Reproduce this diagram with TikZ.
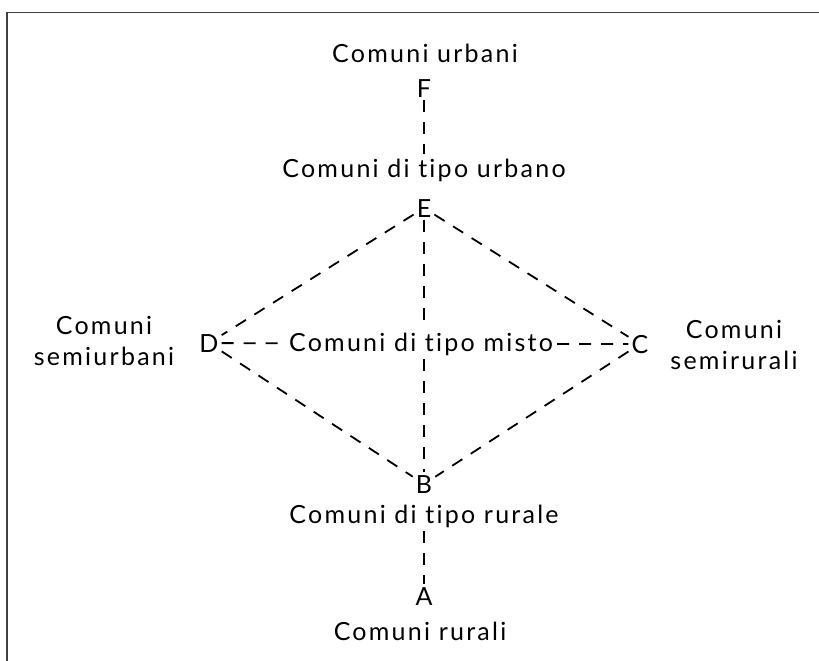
\documentclass[tikz,border=0pt]{standalone}
\usepackage{fontspec}
\setmainfont{Lato}[LetterSpace=9, Ligatures=NoCommon]
\begin{document}
\begin{tikzpicture}[
    x=1pt, y=-1pt,
    point/.style={font=\fontsize{25}{30}\selectfont, inner sep=3pt, anchor=base},
    caption/.style={font=\fontsize{25}{31}\selectfont, inner sep=4pt, anchor=base},
    side/.style={font=\fontsize{25}{31}\selectfont, inner sep=0pt, align=center},
    link/.style={line width=1.8pt, dash pattern=on 12pt off 10pt},
    frame/.style={line width=1.2pt, black!75}
]
\useasboundingbox (0,0) rectangle (819,661);

% Frame (top and left edges only)
\draw[frame] (819,12.7) -- (7,12.7) -- (7,661);

% Points
\node[point] (F) at (424,97) {F};
\node[point] (E) at (424,217) {E};
\node[point] (D) at (209,352) {D};
\node[point] (C) at (640,353) {C};
\node[point] (B) at (424,493) {B};
\node[point] (A) at (424,605) {A};

% Captions
\node[caption] (lblF) at (425,63) {Comuni urbani};
\node[caption] (lblE) at (424,177) {Comuni di tipo urbano};
\node[caption] (misto) at (421,351) {Comuni di tipo misto};
\node[caption] (lblB) at (424,523) {Comuni di tipo rurale};
\node[caption] (lblA) at (420,640) {Comuni rurali};
\node[side] (lblD) at (104,341) {Comuni\\semiurbani};
\node[side] (lblC) at (734,345) {Comuni\\semirurali};

% Vertical axis
\draw[link] (F) -- (F |- lblE.north);
\draw[link] (E) -- (E |- misto.north);
\draw[link] (B |- misto.south) -- (B);
\draw[link] (A |- lblB.south) -- (A);

% Horizontal axis
\draw[link] (D) -- (misto);
\draw[link] (misto) -- (C);

% Diamond
\draw[link] (E) -- (D);
\draw[link] (E) -- (C);
\draw[link] (D) -- (B);
\draw[link] (C) -- (B);

\end{tikzpicture}
\end{document}
